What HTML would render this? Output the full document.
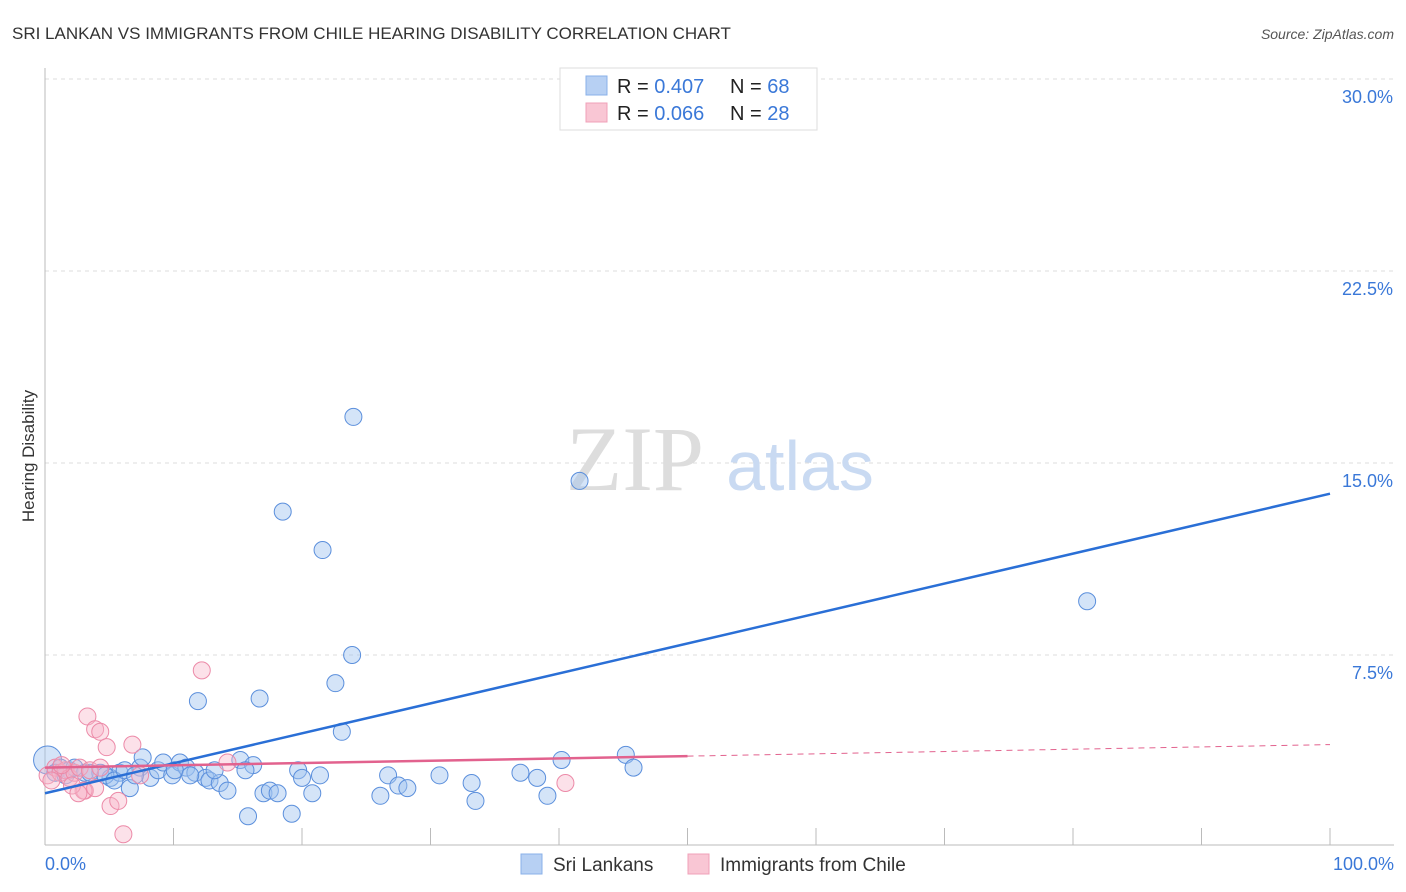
<!DOCTYPE html>
<html><head><meta charset="utf-8"><style>
body{margin:0;background:#fff;font-family:"Liberation Sans",sans-serif}
</style></head><body>
<svg width="1406" height="892" style="display:block">
<text x="12" y="39" font-size="17" fill="#333">SRI LANKAN VS IMMIGRANTS FROM CHILE HEARING DISABILITY CORRELATION CHART</text>
<text x="1394" y="39" font-size="14" font-style="italic" fill="#555" text-anchor="end">Source: ZipAtlas.com</text>
<g id="grid"></g>
<text x="635" y="490" font-size="92" font-family="Liberation Serif,serif" fill="#ddd" text-anchor="middle">ZIP</text>
<text x="800" y="490" font-size="70" fill="#c9daf2" text-anchor="middle">atlas</text>
<text x="34" y="456" font-size="17" fill="#333" text-anchor="middle" transform="rotate(-90 34 456)">Hearing Disability</text>
<g id="marks"></g>
<g>
<rect x="560" y="68" width="257" height="62" fill="#fff" stroke="#ddd"/>
<rect x="586" y="76" width="21" height="19" fill="#b7d0f3" stroke="#8ab0e8"/>
<rect x="586" y="103" width="21" height="19" fill="#f9c6d4" stroke="#f0a0b8"/>
<text x="617" y="93" font-size="20" fill="#222">R = <tspan fill="#3a78d8">0.407</tspan></text>
<text x="730" y="93" font-size="20" fill="#222">N = <tspan fill="#3a78d8">68</tspan></text>
<text x="617" y="120" font-size="20" fill="#222">R = <tspan fill="#3a78d8">0.066</tspan></text>
<text x="730" y="120" font-size="20" fill="#222">N = <tspan fill="#3a78d8">28</tspan></text>
</g>
<g>
<rect x="521" y="854" width="21" height="20" fill="#b7d0f3" stroke="#8ab0e8"/>
<text x="553" y="871" font-size="19" fill="#333">Sri Lankans</text>
<rect x="688" y="854" width="21" height="20" fill="#f9c6d4" stroke="#f0a0b8"/>
<text x="720" y="871" font-size="19" fill="#333">Immigrants from Chile</text>
</g>
</svg>
<script>
const yTicks=[7.5,15,22.5,30];
const yTickLabels=["7.5%","15.0%","22.5%","30.0%"];
const xTickLabels=["0.0%","100.0%"];
const blueX=[0.2,1.2,1.9,3.1,4.3,5.1,5.8,6.6,7.4,7.6,8.2,8.8,9.2,9.9,10.5,11.0,11.7,11.9,12.5,12.8,13.6,14.2,15.2,15.8,16.2,16.7,17.0,17.5,18.1,18.5,19.2,19.7,20.0,20.8,21.4,21.6,22.6,23.1,23.9,24.0,26.1,26.7,27.5,28.2,30.7,33.2,33.5,37.0,38.3,39.1,40.2,41.6,45.2,45.8,52.3,81.1,0.8,1.6,2.3,3.5,4.7,5.4,6.2,7.0,10.1,11.3,13.2,15.6];
const blueY=[3.4,3.1,3.0,2.9,2.9,2.7,2.9,2.3,3.1,3.5,2.7,3.0,3.3,2.8,3.3,3.1,2.9,5.7,2.7,2.6,2.5,2.2,3.4,1.2,3.2,5.8,2.1,2.2,2.1,13.1,1.3,3.0,2.7,2.1,2.8,11.6,6.4,4.5,7.5,16.8,2.0,2.8,2.4,2.3,2.8,2.5,1.8,2.9,2.7,2.0,3.4,14.3,3.6,3.1,29.8,9.6,2.9,2.8,3.1,2.9,2.8,2.6,3.0,2.8,3.0,2.8,3.0,3.0];
const pinkX=[0.2,0.8,1.2,1.6,1.9,2.3,2.7,3.1,3.3,3.9,4.3,4.8,5.1,5.7,6.1,6.8,3.0,2.1,12.2,14.2,40.5,2.6,3.5,4.3,7.4,3.9,1.3,0.5];
const pinkY=[2.8,3.1,2.9,3.0,2.7,2.9,3.1,2.2,5.1,4.6,4.5,3.9,1.6,1.8,0.5,4.0,2.2,2.4,6.9,3.3,2.5,2.1,3.0,3.1,2.8,2.3,3.2,2.6];
const blueTrend=[2.1,13.8];
const pinkTrend=[3.1,4.0];
const ns="http://www.w3.org/2000/svg";
const X=v=>45+v*12.85, Y=v=>847-v*25.6;
function mk(p,t,a){const e=document.createElementNS(ns,t);for(const k in a)e.setAttribute(k,a[k]);p.appendChild(e);return e;}
const g=document.getElementById('grid'), m=document.getElementById('marks');
yTicks.forEach((t,i)=>{const l=mk(g,'line',{x1:45,x2:1394,y1:Y(t),y2:Y(t),stroke:'#ddd','stroke-dasharray':'4,4'});


const tx=mk(g,'text',{x:1393,y:Y(t)+24,'font-size':18,fill:'#3a78d8','text-anchor':'end'});tx.textContent=yTickLabels[i];

});
mk(g,'line',{x1:45,x2:45,y1:68,y2:845,stroke:'#bbb'});
mk(g,'line',{x1:45,x2:1394,y1:845,y2:845,stroke:'#bbb'});
for(let i=1;i<=10;i++){const t=mk(g,'line',{x1:X(i*10),x2:X(i*10),y1:828,y2:845,stroke:'#bbb'});

}
[[X(0),'start'],[X(100)+64,'end']].forEach((p,i)=>{const t=mk(g,'text',{x:p[0],y:870,'font-size':18,fill:'#3a78d8','text-anchor':p[1]});t.textContent=xTickLabels[i];

});
blueX.forEach((x,i)=>{const c=mk(m,'circle',{cx:X(x),cy:Y(blueY[i]),r:i==0?14:8.5,fill:'rgba(160,195,240,0.45)',stroke:'#5b8fdc','stroke-width':1});

});
pinkX.forEach((x,i)=>{const c=mk(m,'circle',{cx:X(x),cy:Y(pinkY[i]),r:8.5,fill:'rgba(248,180,200,0.4)',stroke:'#ec8aa8','stroke-width':1});

});
let l=mk(m,'line',{x1:X(0),y1:Y(blueTrend[0]),x2:X(100),y2:Y(blueTrend[1]),stroke:'#2a6fd6','stroke-width':2.5});


const pm=(pinkTrend[0]+pinkTrend[1])/2;
l=mk(m,'line',{x1:X(0),y1:Y(pinkTrend[0]),x2:X(50),y2:Y(pm),stroke:'#e2628e','stroke-width':2.5});


l=mk(m,'line',{x1:X(50),y1:Y(pm),x2:X(100),y2:Y(pinkTrend[1]),stroke:'#e2628e','stroke-width':1,'stroke-dasharray':'6,5'});


</script>
</body></html>
